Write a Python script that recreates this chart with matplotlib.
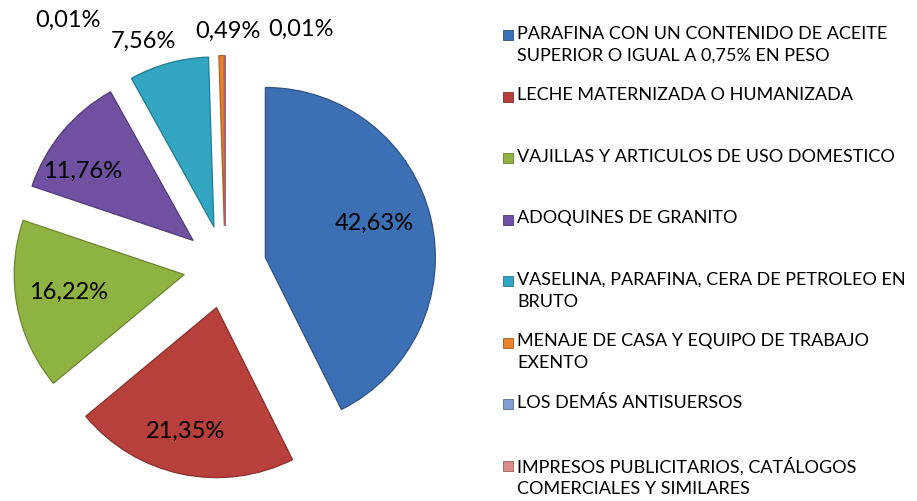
import numpy as np
import matplotlib.pyplot as plt
from matplotlib.patches import Rectangle
import matplotlib.colors as mcolors

plt.rcParams['font.family'] = ['Lato', 'DejaVu Sans']

labels = ["PARAFINA CON UN CONTENIDO DE ACEITE\nSUPERIOR O IGUAL A 0,75% EN PESO",
          "LECHE MATERNIZADA O HUMANIZADA",
          "VAJILLAS Y ARTICULOS DE USO DOMESTICO",
          "ADOQUINES DE GRANITO",
          "VASELINA, PARAFINA, CERA DE PETROLEO EN\nBRUTO",
          "MENAJE DE CASA Y EQUIPO DE TRABAJO\nEXENTO",
          "LOS DEMÁS ANTISUERSOS",
          "IMPRESOS PUBLICITARIOS, CATÁLOGOS\nCOMERCIALES Y SIMILARES"]
values = [42.63, 21.35, 16.22, 11.76, 7.56, 0.49, 0.01, 0.01]
colors = ["#3c6fb4", "#b8403c", "#8fb342", "#7050a0", "#31a5c2", "#e8822c", "#7f9fcf", "#d98c8a"]

# label placement (distance from wedge tip, extra shift) in radius units
lab_r = [0.68, 0.74, 0.71, 0.74, 1.18, 1.17, 1.17, 1.17]
lab_dx = [-0.02, -0.03, 0.02, -0.08, -0.1, 0.04, -0.92, 0.45]
lab_dy = [0.05, 0.0, 0.03, -0.06, -0.04, -0.02, 0.04, -0.01]

W, H = 917, 502
fig = plt.figure(figsize=(W / 100, H / 100), dpi=100)
ax = fig.add_axes([0, 0, 1, 1])

R = 170.0
cx, cy = 225.0, 234.0
wedges, _ = ax.pie(values, startangle=90, counterclock=False, explode=[0.244] * len(values),
                   colors=colors, radius=1,
                   wedgeprops=dict(linewidth=0.9))
for w, c in zip(wedges, colors):
    w.set_edgecolor(tuple(np.array(mcolors.to_rgb(c)) * 0.75))

ax.set_aspect('auto')
ax.set_xlim(-cx / R, (W - cx) / R)
ax.set_ylim(-cy / R, (H - cy) / R)
ax.axis('off')

for i, w in enumerate(wedges):
    th = np.deg2rad((w.theta1 + w.theta2) / 2)
    x0, y0 = w.center
    x = x0 + lab_r[i] * np.cos(th) + lab_dx[i]
    y = y0 + lab_r[i] * np.sin(th) + lab_dy[i]
    txt = f"{values[i]:.2f}".replace('.', ',') + "%"
    ax.text(x, y, txt, ha='center', va='center', fontsize=17, color='black')

# legend
for i, (lab, c) in enumerate(zip(labels, colors)):
    ytop = 36 + i * 61.5 if i < 7 else 467
    fig.patches.append(Rectangle(((503) / W, 1 - (ytop + 5) / H), 10 / W, 10 / H,
                                 transform=fig.transFigure, facecolor=c,
                                 edgecolor=tuple(np.array(mcolors.to_rgb(c)) * 0.7), lw=0.6))
    fig.text(517 / W, 1 - (ytop - 10) / H, lab, ha='left', va='top', fontsize=13,
             linespacing=1.45, color='black')

fig.savefig("out.png", dpi=100)
